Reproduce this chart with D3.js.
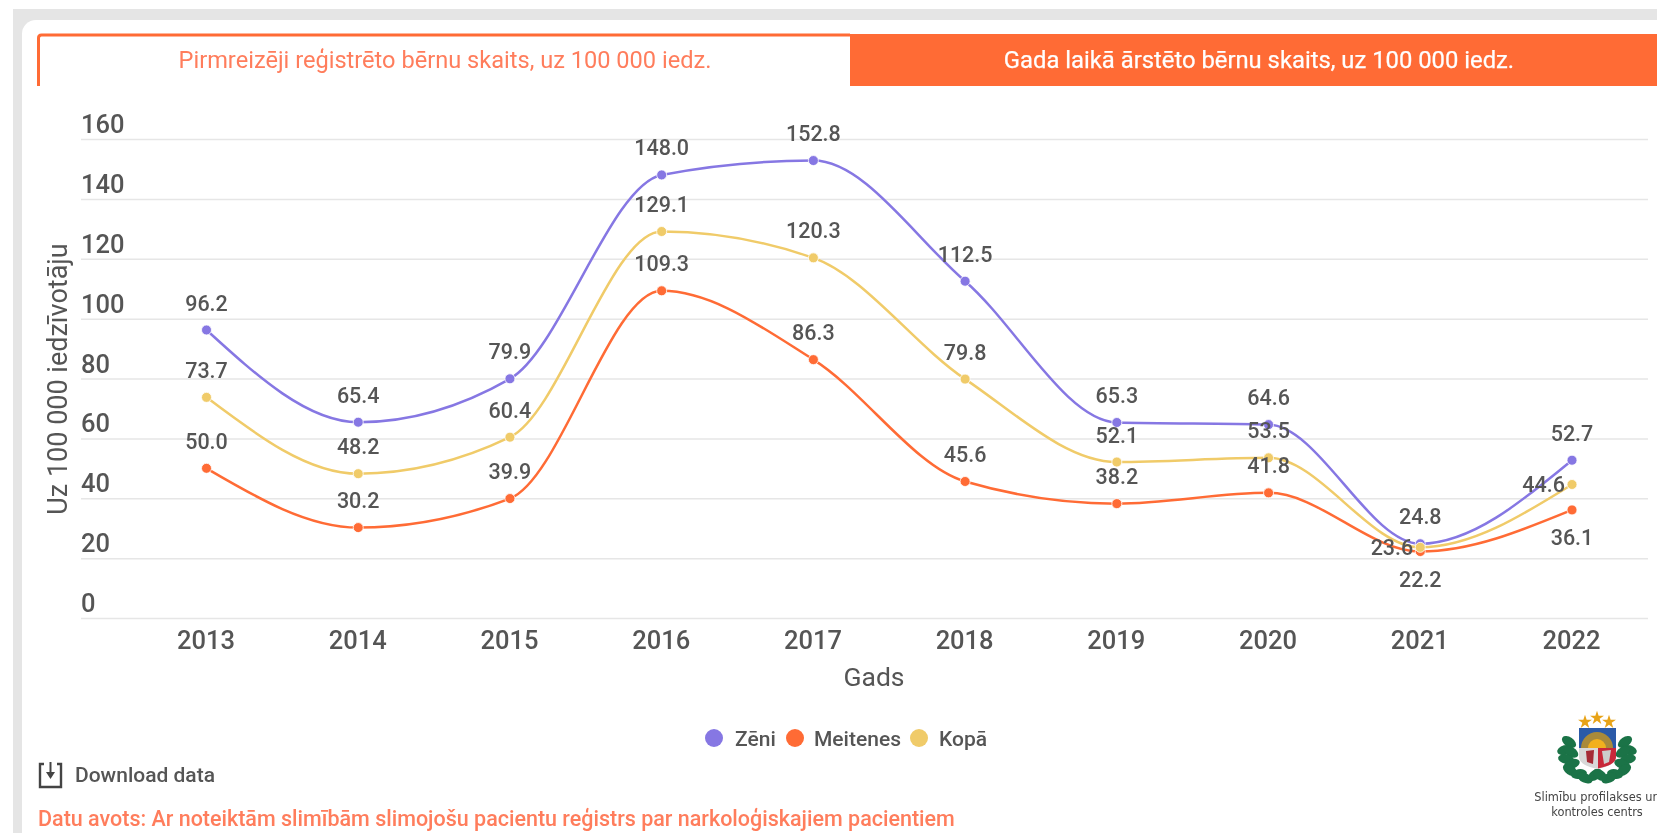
<!DOCTYPE html>
<html lang="lv"><head><meta charset="utf-8">
<script src="https://cdn.jsdelivr.net/npm/d3@7/dist/d3.min.js"></script>
<style>
html,body{margin:0;padding:0;background:#fff;overflow:hidden}
svg{display:block;font-family:Roboto,sans-serif;filter:blur(.5px)}
</style></head><body><svg id="c" width="1657" height="833"></svg>
<script>
const years=[2013,2014,2015,2016,2017,2018,2019,2020,2021,2022];
const zeni=[96.2,65.4,79.9,148.0,152.8,112.5,65.3,64.6,24.8,52.7];
const meitenes=[50.0,30.2,39.9,109.3,86.3,45.6,38.2,41.8,22.2,36.1];
const kopa=[73.7,48.2,60.4,129.1,120.3,79.8,52.1,53.5,23.6,44.6];
const yTicks=[0,20,40,60,80,100,120,140,160];
const seriesNames=["Zēni","Meitenes","Kopā"];
const seriesColors=["#8677e3","#ff6b35","#f0cb69"];
const tabLabels=["Pirmreizēji reģistrēto bērnu skaits, uz 100 000 iedz.","Gada laikā ārstēto bērnu skaits, uz 100 000 iedz."];
const yTitle="Uz 100 000 iedzīvotāju", xTitle="Gads";
const downloadLabel="Download data";
const sourceLabel="Datu avots: Ar noteiktām slimībām slimojošu pacientu reģistrs par narkoloģiskajiem pacientiem";
const logoLines=["Slimību profilakses un","kontroles centrs"];

const svg=d3.select("#c");
const ink="#555", accent="#ff6b35", salmon="#ff7d5c";

// page frame
svg.append("rect").attr("x",13).attr("y",9).attr("width",1644).attr("height",824).attr("fill","#e5e5e5");
svg.append("rect").attr("x",22).attr("y",20).attr("width",1650).attr("height",830).attr("rx",14).attr("fill","#fff");

// tabs
svg.append("rect").attr("x",850).attr("y",34).attr("width",807).attr("height",52).attr("fill",accent);
svg.append("path").attr("d","M38.5,86V38q0-3,3-3H850").attr("fill","none").attr("stroke",accent).attr("stroke-width",3);
svg.append("text").attr("x",445).attr("y",68).attr("text-anchor","middle").attr("font-size",23.6).attr("fill",salmon).text(tabLabels[0]);
svg.append("text").attr("x",1259).attr("y",68).attr("text-anchor","middle").attr("font-size",23.8).attr("fill","#fff").attr("stroke","#fff").attr("stroke-width",.25).text(tabLabels[1]);

// scales
const x=d3.scalePoint().domain(years).range([206.5,1572]);
const y=d3.scaleLinear().domain([0,160]).range([618,139]);

// y axis with gridlines
const yAxis=d3.axisRight(y).tickValues(yTicks).tickSize(1567).tickFormat(d3.format("d"));
const gy=svg.append("g").attr("transform","translate(81,0)").call(yAxis);
gy.select(".domain").remove();
gy.selectAll("line").attr("stroke","#e6e6e6").attr("stroke-width",1.5);
gy.selectAll("text").attr("x",0).attr("dy",-6.5).attr("text-anchor","start").attr("font-size",25.5).attr("font-weight",500).attr("fill",ink).attr("font-family","Roboto,sans-serif");

// x axis
const xAxis=d3.axisBottom(x).tickSize(0).tickPadding(0);
const gx=svg.append("g").attr("transform","translate(-1,627.5)").call(xAxis);
gx.select(".domain").remove();
gx.selectAll("text").attr("font-size",25.5).attr("font-weight",500).attr("fill",ink).attr("font-family","Roboto,sans-serif").attr("y",0).attr("dy","0.85em");

svg.append("text").attr("x",874).attr("y",686).attr("text-anchor","middle").attr("font-size",26.5).attr("fill",ink).text(xTitle);
svg.append("text").attr("transform","translate(67,379) rotate(-90)").attr("text-anchor","middle").attr("font-size",27).attr("fill",ink).text(yTitle);

// series
const valueSets=[zeni,meitenes,kopa];
const line=d3.line().x((d,i)=>x(years[i])).y(d=>y(d)).curve(d3.curveMonotoneX);
[0,1,2].forEach(s=>{
  svg.append("path").attr("d",line(valueSets[s])).attr("fill","none").attr("stroke",seriesColors[s]).attr("stroke-width",2.5);
});
[0,1,2].forEach(s=>{
  svg.append("g").selectAll("circle").data(valueSets[s]).join("circle")
    .attr("cx",(d,i)=>x(years[i])).attr("cy",d=>y(d)).attr("r",5)
    .attr("fill",seriesColors[s]).attr("stroke","#fff").attr("stroke-width",.8);
});
// labels: placed above unless the chart places them elsewhere
const below={"1:8":true,"1:9":true};
const left={"2:8":true,"2:9":true};
[0,1,2].forEach(s=>{
  svg.append("g").selectAll("text").data(valueSets[s]).join("text")
    .attr("x",(d,i)=>left[s+":"+i]?x(years[i])-7:x(years[i]))
    .attr("y",(d,i)=>{
      const k=s+":"+i;
      if(below[k]) return y(d)+35;
      if(left[k]) return y(d)+8;
      return y(d)-19.5;
    })
    .attr("text-anchor",(d,i)=>left[s+":"+i]?"end":"middle")
    .attr("font-size",21.5).attr("font-weight",500).attr("fill",ink)
    .text(d=>d.toFixed(1));
});

// legend
const lx=[714,795,919], ltx=[735,814,939];
seriesNames.forEach((n,i)=>{
  svg.append("circle").attr("cx",lx[i]).attr("cy",738).attr("r",9).attr("fill",seriesColors[i]);
  svg.append("text").attr("x",ltx[i]).attr("y",745.5).attr("font-size",21).attr("font-weight",500).attr("fill",ink).text(n);
});

// download
const dl=svg.append("g").attr("fill","none").attr("stroke","#444").attr("stroke-width",2.4);
dl.append("path").attr("d","M44,764H40V787H61V764H57");
dl.append("path").attr("d","M50.5,762V776").attr("stroke-width",2);
svg.append("path").attr("d","M46,772H55L50.5,779Z").attr("fill","#444");
svg.append("text").attr("x",75).attr("y",782).attr("font-size",21).attr("font-weight",500).attr("fill",ink).text(downloadLabel);

// source
svg.append("text").attr("x",38).attr("y",826).attr("font-size",21.5).attr("font-weight",500).attr("fill",salmon).text(sourceLabel);

// logo
const logo=svg.append("g").attr("transform","translate(1597,0)").style("filter","blur(.6px)");
const leaf=[[-28,742,35],[-32,750,-15],[-26,752,30],[-31,759,10],[-25,764,-20],[-27,770,35],[-18,774,-10],[-12,778,25],[-2,775,-35],
            [28,742,-35],[32,750,15],[26,752,-30],[31,759,-10],[25,764,20],[27,770,-35],[18,774,10],[12,778,-25],[3,775,35]];
leaf.forEach(l=>logo.append("ellipse").attr("cx",l[0]).attr("cy",l[1]).attr("rx",8).attr("ry",4.8).attr("transform",`rotate(${l[2]} ${l[0]} ${l[1]})`).attr("fill","#1b7347"));
const star=d3.symbol().type(d3.symbolStar).size(60)();
[[-12,722],[0,718],[12,722]].forEach(p=>logo.append("path").attr("d",star).attr("transform",`translate(${p[0]},${p[1]})`).attr("fill","#e8a317"));
logo.append("path").attr("d","M-18,728H19V757Q19,765,.5,769Q-18,765,-18,757Z").attr("fill","#d8d8d8");
logo.append("rect").attr("x",-18).attr("y",728).attr("width",37).attr("height",20).attr("fill","#2b5aa8");
logo.append("path").attr("d","M-16,748A16,16 0 0 1 16,748Z").attr("fill","#a98a3a");
logo.append("path").attr("d","M-9,748A9,9 0 0 1 9,748Z").attr("fill","#f2b01e");
logo.append("path").attr("d","M1,748H19V757Q19,765,1,768.5Z").attr("fill","#c8283a");
logo.append("path").attr("d","M-11,751L-3,750L-4,764L-10,762Z").attr("fill","#a52a35");
logo.append("path").attr("d","M5,751L14,750L12,762L7,764Z").attr("fill","#ccc");
logoLines.forEach((t,i)=>svg.append("text").attr("x",1597).attr("y",801+i*14.5).attr("text-anchor","middle").attr("font-size",11.4).attr("font-family","'DejaVu Sans',sans-serif").attr("fill","#444").text(t));
</script></body></html>
